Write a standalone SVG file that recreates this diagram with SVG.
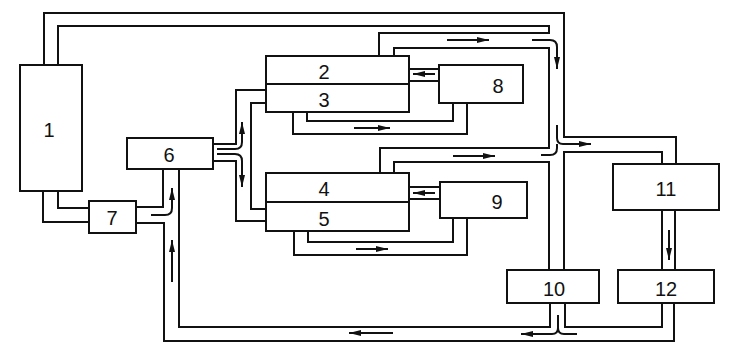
<svg xmlns="http://www.w3.org/2000/svg" width="750" height="353" viewBox="0 0 750 353">
<defs>
<marker id="ah" viewBox="0 0 12 6" refX="12" refY="3" markerWidth="12" markerHeight="6" markerUnits="userSpaceOnUse" orient="auto">
<path d="M0,0 L12,3 L0,6 z" fill="#111"/>
</marker>
<style>
.box{fill:#fff;stroke:#111;stroke-width:2}
.ln{fill:none;stroke:#111;stroke-width:2;stroke-linejoin:miter}
.ar{fill:none;stroke:#111;stroke-width:2;marker-end:url(#ah)}
.lb{font-family:"Liberation Sans",Arial,sans-serif;font-size:20px;fill:#111;text-anchor:middle;dominant-baseline:central}
</style>
</defs>
<rect width="750" height="353" fill="#fff"/>
<g id="connectors">
<path class="ln" d="M44 65 V13 H564 V137 H676 V164"/>
<path class="ln" d="M58 65 V26 H549 V33 H379 V56"/>
<path class="ln" d="M394 56 V48 H549 V148 H380 V173"/>
<path class="ln" d="M394 173 V162 H549 V270"/>
<path class="ln" d="M564 270 V152 H662 V164"/>
<path class="ln" d="M409 69 H439 M409 81 H439"/>
<path class="ln" d="M307 112 V121 H453 V103"/>
<path class="ln" d="M293 112 V134 H467 V103"/>
<path class="ln" d="M409 187 H440 M409 199 H440"/>
<path class="ln" d="M308 231 V242 H453 V218"/>
<path class="ln" d="M294 231 V255 H467 V218"/>
<path class="ln" d="M213 144 H236 V90 H266"/>
<path class="ln" d="M213 161 H236 V221 H266"/>
<path class="ln" d="M266 103 H251 V209 H266"/>
<path class="ln" d="M43 191 V222 H89"/>
<path class="ln" d="M58 191 V208 H89"/>
<path class="ln" d="M136 207 H163 V169"/>
<path class="ln" d="M136 223 H164 V341 H674 V303"/>
<path class="ln" d="M179 169 V327 H550 V303"/>
<path class="ln" d="M565 303 V327 H662 V303"/>
<path class="ln" d="M662 210 V270 M675 210 V270"/>
<path class="ar" d="M447 40 H489"/>
<path class="ar" d="M532 40 H550 Q557 40 557 47 V69"/>
<path class="ar" d="M435 74 H413"/>
<path class="ar" d="M354 128 H390"/>
<path class="ar" d="M453 156 H495"/>
<path class="ar" d="M435 193 H413"/>
<path class="ar" d="M356 249 H388"/>
<path class="ar" d="M557 125 V138 Q557 144 563 144 H591"/>
<path class="ln" d="M541 155 H550 Q557 155 557 148 V144"/>
<path class="ar" d="M217 149 H235 Q242 149 242 142 V122"/>
<path class="ar" d="M217 154 H235 Q242 154 242 161 V187"/>
<path class="ar" d="M151 215 H165 Q172 215 172 208 V188"/>
<path class="ar" d="M172 282 V240"/>
<path class="ar" d="M393 333 H349"/>
<path class="ar" d="M558 315 V328 Q558 334 552 334 H521"/>
<path class="ln" d="M577 334 H564 Q558 334 558 328"/>
<path class="ar" d="M669 230 V260"/>
</g>
<g id="n1"><rect class="box" x="20" y="65" width="62" height="126"/><text class="lb" x="49" y="130">1</text></g>
<g id="n2"><rect class="box" x="266" y="56" width="143" height="28"/><text class="lb" x="324" y="72">2</text></g>
<g id="n3"><rect class="box" x="266" y="84" width="143" height="28"/><text class="lb" x="324" y="100">3</text></g>
<g id="n4"><rect class="box" x="266" y="173" width="143" height="29"/><text class="lb" x="324" y="189">4</text></g>
<g id="n5"><rect class="box" x="266" y="202" width="143" height="29"/><text class="lb" x="324" y="219">5</text></g>
<g id="n6"><rect class="box" x="127" y="138" width="86" height="31"/><text class="lb" x="169" y="155">6</text></g>
<g id="n7"><rect class="box" x="89" y="201" width="47" height="32"/><text class="lb" x="112" y="218">7</text></g>
<g id="n8"><rect class="box" x="439" y="65" width="84" height="38"/><text class="lb" x="498" y="86">8</text></g>
<g id="n9"><rect class="box" x="440" y="182" width="87" height="36"/><text class="lb" x="497" y="202">9</text></g>
<g id="n10"><rect class="box" x="507" y="270" width="92" height="33"/><text class="lb" x="554" y="289">10</text></g>
<g id="n11"><rect class="box" x="613" y="164" width="106" height="46"/><text class="lb" x="666" y="189">11</text></g>
<g id="n12"><rect class="box" x="618" y="270" width="96" height="33"/><text class="lb" x="666" y="289">12</text></g>
</svg>
